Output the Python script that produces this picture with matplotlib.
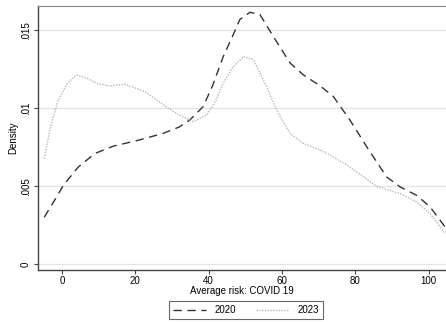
# plot.py - kernel density of average COVID 19 risk, 2020 vs 2023

import matplotlib
matplotlib.use("Agg")
import matplotlib.pyplot as plt

plt.rcParams["font.family"] = ["Liberation Sans", "DejaVu Sans"]

# values
risk_2020 = [-4.8, -2, 0.4, 4.5, 9, 14, 21, 27.6, 32, 34.9, 38.5, 41, 44,
             46.5, 48.5, 51.3, 54, 57.6, 62.2, 65.8, 70.4, 74, 78.5, 83.1,
             88.5, 92.2, 96.7, 100.4, 104.5]
dens_2020 = [0.00302, 0.0041, 0.00506, 0.00624, 0.0071, 0.00757, 0.00796,
             0.00839, 0.0088, 0.00925, 0.0101, 0.0114, 0.01332, 0.0146,
             0.01568, 0.01615, 0.0160, 0.01461, 0.0129, 0.01214, 0.01143,
             0.01075, 0.00925, 0.00753, 0.0056, 0.00496, 0.00442, 0.00367,
             0.00238]

risk_2023 = [-4.8, -3, -1, 1.5, 4, 7, 10, 13.1, 17.2, 20, 22.6, 26, 29, 32.5,
             35.8, 39.5, 42, 44, 46.5, 49.5, 52.2, 55.8, 58.5, 62.2, 65.8,
             70.4, 73.1, 78.5, 85.8, 92.2, 96.7, 100.4, 104.5]
dens_2023 = [0.00678, 0.0089, 0.0105, 0.0116, 0.01214, 0.0119, 0.01155,
             0.01143, 0.01154, 0.0113, 0.01107, 0.0105, 0.0100, 0.0095,
             0.00914, 0.00957, 0.0105, 0.0116, 0.0126, 0.01332, 0.0131,
             0.01139, 0.00989, 0.00839, 0.00775, 0.00732, 0.0070, 0.00624,
             0.0050, 0.00453, 0.0040, 0.00324, 0.00196]

x_ticks = [0, 20, 40, 60, 80, 100]
y_ticks = [0, 0.005, 0.01, 0.015]
y_tick_labels = ["0", ".005", ".01", ".015"]

fig = plt.figure(figsize=(4.46, 3.22), dpi=100)
ax = fig.add_axes([38 / 446, 1 - 269.5 / 322, 1 - 38 / 446, (269.5 - 6) / 322])

ax.plot(risk_2020, dens_2020, color="#333333", lw=1.0,
        linestyle=(0, (6, 4)), label="2020")
ax.plot(risk_2023, dens_2023, color="#b8b8b8", lw=1.0,
        linestyle=(0, (1, 1)), label="2023")

ax.set_xlim(-6.5, 104.7)
ax.set_ylim(-0.00033, 0.01655)
ax.set_xticks(x_ticks)
ax.set_yticks(y_ticks)
ax.set_yticklabels(y_tick_labels, rotation=90, va="center")
ax.grid(axis="y", color="#e3e3e3", lw=0.9)
ax.set_axisbelow(True)

for side in ["left", "bottom"]:
    ax.spines[side].set_color("#444444")
    ax.spines[side].set_linewidth(1.0)
ax.spines["top"].set_color("#888888")
ax.spines["right"].set_visible(False)

ax.tick_params(colors="#444444", labelcolor="black", labelsize=7,
               length=3, width=0.8, pad=2)

ax.set_xlabel("Average risk: COVID 19", fontsize=7, labelpad=0)
ax.set_ylabel("Density", fontsize=7, labelpad=2)

leg = fig.legend(loc="center", bbox_to_anchor=(246 / 446, 1 - 310 / 322),
                 ncol=2, fontsize=7, frameon=True, fancybox=False,
                 handlelength=3.4, columnspacing=2.0, borderpad=0.4,
                 handletextpad=0.9)
leg.get_frame().set_edgecolor("#444444")
leg.get_frame().set_linewidth(0.8)

fig.savefig("out.png", dpi=100, facecolor="white")
